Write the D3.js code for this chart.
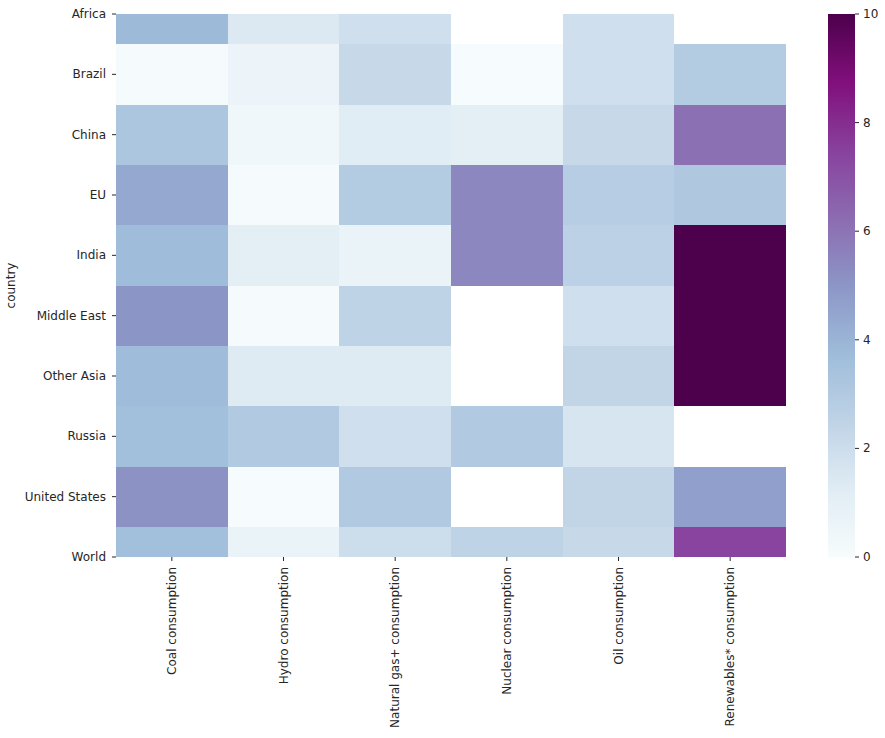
<!DOCTYPE html>
<html><head><meta charset="utf-8">
<script src="https://cdn.jsdelivr.net/npm/d3@7"></script>
<style>body{margin:0;background:#fff;} text{font-family:"DejaVu Sans",sans-serif;}</style>
</head><body>
<svg id="chart" width="885" height="738"></svg>
<script>
const countries = ["Africa","Brazil","China","EU","India","Middle East","Other Asia","Russia","United States","World"];
const columns = ["Coal consumption","Hydro consumption","Natural gas+ consumption","Nuclear consumption","Oil consumption","Renewables* consumption"];
// values per country (null = missing)
const coal       = [3.8, 0.1, 3.2, 4.4, 3.7, 5.0, 3.7, 3.6, 5.1, 3.6];
const hydro      = [1.4, 0.6, 0.4, 0.1, 1.1, 0.1, 1.3, 3.0, 0.05, 0.7];
const gas        = [1.9, 2.2, 1.2, 2.9, 0.7, 2.5, 1.3, 1.9, 3.0, 2.0];
const nuclear    = [null, 0.05, 1.1, 5.4, 5.4, null, null, 3.0, null, 2.5];
const oil        = [1.9, 1.9, 2.2, 2.8, 2.6, 1.9, 2.4, 1.6, 2.4, 2.2];
const renewables = [null, 2.9, 6.1, 3.1, 12, 12, 12, null, 4.7, 7.4];
const colorTicks = [0, 2, 4, 6, 8, 10];

(function () {
const series = [coal, hydro, gas, nuclear, oil, renewables];
const cells = [];
series.forEach((arr, ci) => arr.forEach((v, ri) => { if (v !== null) cells.push({ci, ri, v}); }));

// matplotlib BuPu
const bupu = ["#f7fcfd","#e0ecf4","#bfd3e6","#9ebcda","#8c96c6","#8c6bb1","#88419d","#810f7c","#4d004b"];
const color = d3.scaleLinear().domain(d3.range(9).map(i => i * 10 / 8)).range(bupu).clamp(true);

const svg = d3.select("#chart");
const pl = 116, pr = 786, pt = 14, pb = 557;
const x = d3.scaleLinear().domain([0, columns.length]).range([pl, pr]);
// matplotlib half-row cropping: visible from row center 0 to row center 9
const y = d3.scaleLinear().domain([0.5, countries.length - 0.5]).range([pt, pb]);

const defs = svg.append("defs");
defs.append("clipPath").attr("id", "clip")
  .append("rect").attr("x", pl).attr("y", pt).attr("width", pr - pl).attr("height", pb - pt);

svg.append("g").attr("clip-path", "url(#clip)").selectAll("rect").data(cells).join("rect")
  .attr("x", d => x(d.ci)).attr("y", d => y(d.ri))
  .attr("width", d => x(d.ci + 1) - x(d.ci)).attr("height", d => y(d.ri + 1) - y(d.ri))
  .attr("fill", d => color(d.v)).attr("shape-rendering", "crispEdges");

const txt = "#262626";
// y axis
const yg = svg.append("g");
countries.forEach((c, i) => {
  const yy = y(i + 0.5);
  yg.append("line").attr("x1", pl - 4).attr("x2", pl).attr("y1", yy).attr("y2", yy).attr("stroke", txt).attr("stroke-width", 1);
  yg.append("text").attr("x", pl - 10).attr("y", yy).attr("text-anchor", "end").attr("dominant-baseline", "central")
    .attr("font-size", 12).attr("fill", txt).text(c);
});
svg.append("text").attr("transform", `translate(11,${(pt + pb) / 2}) rotate(-90)`).attr("text-anchor", "middle")
  .attr("dominant-baseline", "central").attr("font-size", 12).attr("fill", txt).text("country");

// x axis
const xg = svg.append("g");
columns.forEach((c, i) => {
  const xx = x(i + 0.5);
  xg.append("line").attr("x1", xx).attr("x2", xx).attr("y1", pb).attr("y2", pb + 4).attr("stroke", txt);
  xg.append("text").attr("transform", `translate(${xx},${pb + 10}) rotate(-90)`).attr("text-anchor", "end")
    .attr("dominant-baseline", "central").attr("font-size", 12).attr("fill", txt).text(c);
});

// colorbar
const cbx = 828, cbw = 27;
const cy = d3.scaleLinear().domain([0, 10]).range([pb, pt]);
const grad = defs.append("linearGradient").attr("id", "cb").attr("x1", 0).attr("x2", 0).attr("y1", 1).attr("y2", 0);
d3.range(0, 10.01, 0.25).forEach(v => grad.append("stop").attr("offset", v / 10).attr("stop-color", color(v)));
svg.append("rect").attr("x", cbx).attr("y", pt).attr("width", cbw).attr("height", pb - pt).attr("fill", "url(#cb)");
colorTicks.forEach(t => {
  svg.append("line").attr("x1", cbx + cbw).attr("x2", cbx + cbw + 4).attr("y1", cy(t)).attr("y2", cy(t)).attr("stroke", txt);
  svg.append("text").attr("x", cbx + cbw + 8).attr("y", cy(t)).attr("dominant-baseline", "central")
    .attr("font-size", 12).attr("fill", txt).text(t);
});
})();
</script>
</body></html>
